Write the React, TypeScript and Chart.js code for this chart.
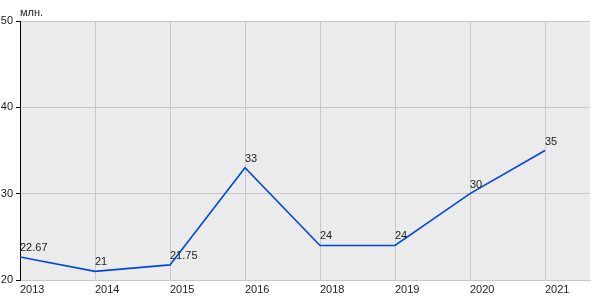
import React, { useEffect, useRef } from "react";
import { Chart, registerables } from "chart.js";
Chart.register(...registerables);

const categories = ["2013", "2014", "2015", "2016", "2018", "2019", "2020", "2021"];
const values = [22.67, 21, 21.75, 33, 24, 24, 30, 35];
const valueLabels = ["22.67", "21", "21.75", "33", "24", "24", "30", "35"];
const yTicks = [20, 30, 40, 50];
const unitLabel = "млн.";

const FONT = "Arial, 'Liberation Sans', sans-serif";

export default function App() {
  const ref = useRef<HTMLCanvasElement>(null);
  useEffect(() => {
    const bgPlugin = {
      id: "bg",
      beforeDraw(chart: any) {
        const { ctx, chartArea } = chart;
        ctx.save();
        ctx.fillStyle = "#ebebeb";
        ctx.fillRect(chartArea.left, chartArea.top, chartArea.right - chartArea.left, chartArea.bottom - chartArea.top);
        ctx.restore();
      },
      afterDraw(chart: any) {
        const { ctx, chartArea } = chart;
        ctx.save();
        ctx.font = `11px ${FONT}`;
        ctx.fillStyle = "#222";
        ctx.textAlign = "left";
        ctx.textBaseline = "alphabetic";
        ctx.fillText(unitLabel, chartArea.left, chartArea.top - 5);
        const meta = chart.getDatasetMeta(0);
        meta.data.forEach((pt: any, i: number) => {
          ctx.fillText(valueLabels[i], pt.x, pt.y - 6);
        });
        ctx.restore();
      },
    };
    const chart = new Chart(ref.current!, {
      type: "line",
      data: {
        datasets: [
          {
            data: values.map((v, i) => ({ x: i, y: v })),
            borderColor: "#0047e0",
            borderWidth: 1.6,
            pointRadius: 0,
            tension: 0,
            fill: false,
          },
        ],
      },
      options: {
        animation: false,
        responsive: false,
        layout: { padding: { top: 21, right: 10, left: 0, bottom: 0 } },
        plugins: { legend: { display: false }, tooltip: { enabled: false } },
        scales: {
          x: {
            type: "linear",
            min: 0,
            max: 7.6,
            afterBuildTicks(scale: any) {
              scale.ticks = categories.map((_, i) => ({ value: i }));
            },
            afterFit(scale: any) {
              scale.height = 20;
            },
            ticks: {
              align: "start",
              padding: 3,
              maxRotation: 0,
              autoSkip: false,
              color: "#222",
              font: { family: FONT, size: 11 },
              callback: (v: any) => categories[v as number] ?? "",
            },
            grid: { color: "#c8c8c8", drawTicks: false, lineWidth: 1 },
            border: { color: "#c8c8c8", width: 1 },
          },
          y: {
            min: 20,
            max: 50,
            afterBuildTicks(scale: any) {
              scale.ticks = yTicks.map((v) => ({ value: v }));
            },
            afterFit(scale: any) {
              scale.width = 20;
            },
            ticks: {
              padding: 3,
              color: "#222",
              font: { family: FONT, size: 11 },
            },
            grid: { color: "#c8c8c8", tickColor: "#000", tickLength: 4, lineWidth: 1 },
            border: { color: "#000", width: 1 },
          },
        },
      },
      plugins: [bgPlugin],
    } as any);
    return () => chart.destroy();
  }, []);
  return (
    <div style={{ position: "fixed", left: 0, top: 0, width: 600, height: 300, background: "#fff" }}>
      <canvas ref={ref} width={600} height={300} style={{ width: 600, height: 300 }} />
    </div>
  );
}
